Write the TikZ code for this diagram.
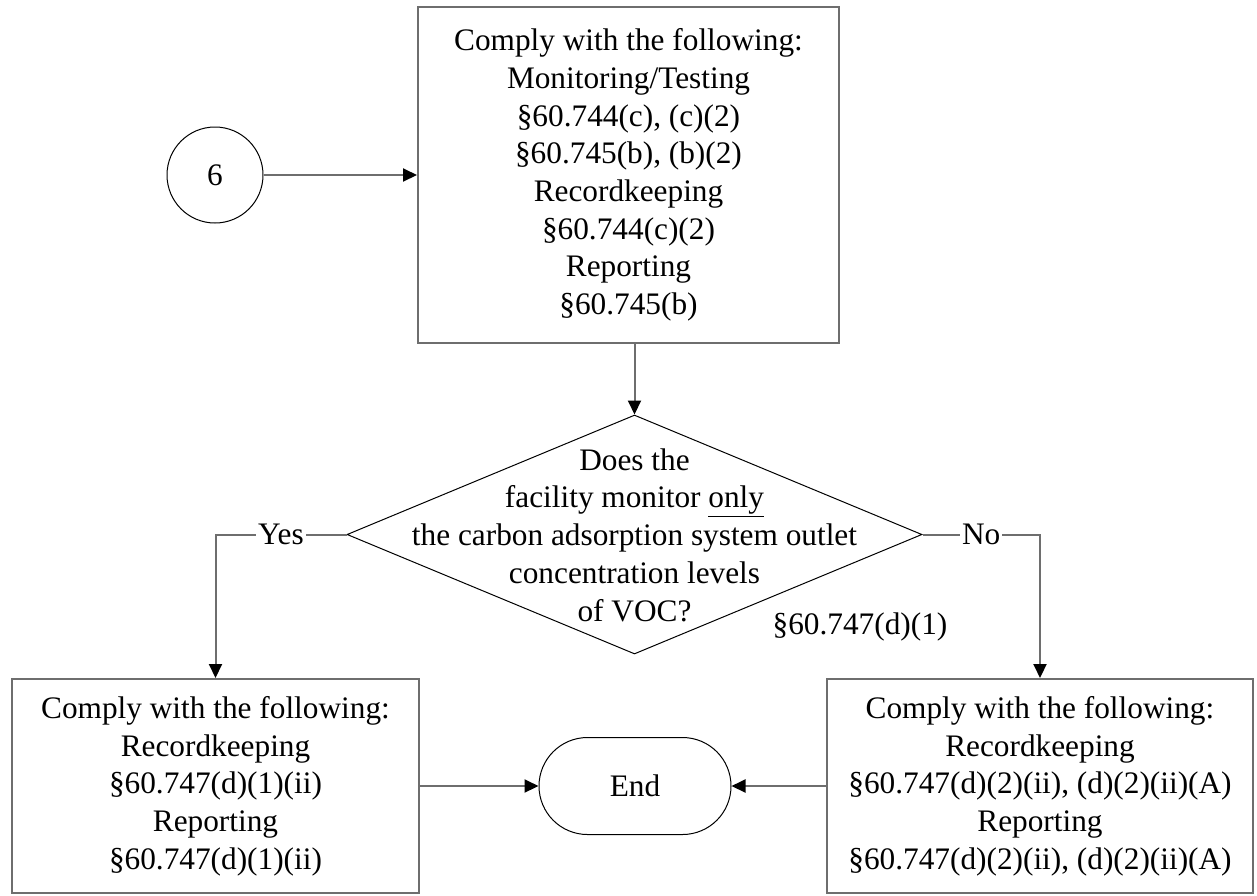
\documentclass[tikz,border=0pt]{standalone}
\usepackage{fontspec}
\setmainfont{Liberation Serif}
\usetikzlibrary{arrows.meta,shapes.geometric,shapes.misc}
\definecolor{linegray}{RGB}{110,110,110}
\begin{document}
\begin{tikzpicture}[x=1pt,y=-1pt,
  every node/.style={font=\fontsize{31.3pt}{37.7pt}\selectfont, align=center, inner sep=0pt},
  box/.style={draw=linegray, line width=2pt, rectangle},
  circ/.style={draw=black, line width=1pt, circle},
  dec/.style={draw=black, line width=1pt, diamond},
  term/.style={draw=black, line width=1pt, rounded rectangle},
  conn/.style={draw=linegray, line width=2pt, -{Triangle[length=14pt,width=13pt,color=black]}},
  lbl/.style={fill=white, inner xsep=2pt, inner ysep=1pt}
]
\useasboundingbox (0,0) rectangle (1257,895);

\node[box, minimum width=421pt, minimum height=336pt] (top) at (628.5,175)
  {Comply with the following:\\Monitoring/Testing\\§60.744(c), (c)(2)\\§60.745(b), (b)(2)\\Recordkeeping\\§60.744(c)(2)\\Reporting\\§60.745(b)};

\node[circ, minimum size=96pt] (six) at (215,175) {6};

\node[dec, minimum width=575pt, minimum height=239pt] (q) at (634.5,534.5) {};
\node (qt) at (634.5,535) {Does the\\facility monitor \underline{only}\\the carbon adsorption system outlet\\concentration levels\\of VOC?};
\node (ref) at (860,627) {§60.747(d)(1)};

\node[box, minimum width=407pt, minimum height=214pt] (lb) at (215.5,786)
  {Comply with the following:\\Recordkeeping\\§60.747(d)(1)(ii)\\Reporting\\§60.747(d)(1)(ii)};
\node[box, minimum width=426pt, minimum height=214pt] (rb) at (1040,786)
  {Comply with the following:\\Recordkeeping\\§60.747(d)(2)(ii), (d)(2)(ii)(A)\\Reporting\\§60.747(d)(2)(ii), (d)(2)(ii)(A)};

\node[term, minimum width=192pt, minimum height=97pt] (end) at (635,786) {End};

\draw[conn] (six) -- (top);
\draw[conn] (top.south -| q.north) -- (q.north);
\draw[conn] (q.west) -| node[lbl, pos=0.25] {Yes} (lb.north);
\draw[conn] (q.east) -| node[lbl, pos=0.25] {No} (rb.north);
\draw[conn] (lb.east) -- (end.west);
\draw[conn] (rb.west) -- (end.east);
\end{tikzpicture}
\end{document}
